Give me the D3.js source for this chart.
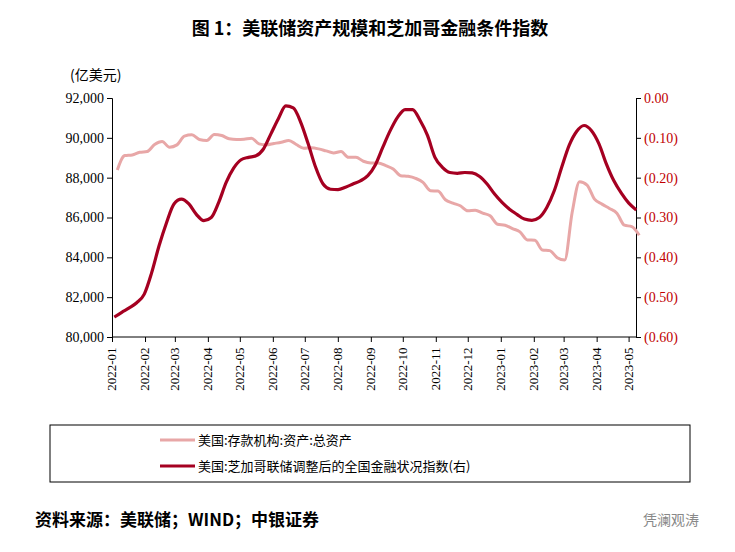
<!DOCTYPE html><html><head><meta charset="utf-8"><script src="https://cdn.jsdelivr.net/npm/d3@7"></script>
<style>body{margin:0;background:#fff}</style></head><body><svg id="c" width="735" height="552"></svg>
<script>
const startDate = "2022-01-06";
const assets = [88386,89109,89143,89277,89311,89664,89815,89529,89647,90084,90151,89916,89866,90168,90118,89950,89916,89933,89983,89697,89647,89714,89782,89866,89664,89479,89496,89445,89345,89244,89311,89025,89025,88824,88739,88739,88605,88437,88101,88067,87966,87765,87345,87328,86891,86723,86588,86336,86370,86219,86084,85664,85613,85445,85277,84874,84857,84370,84336,83983,83866,86252,87798,87630,86924,86672,86454,86219,85613,85546,85109];
const nfci = [-0.550,-0.538,-0.527,-0.514,-0.493,-0.439,-0.371,-0.313,-0.266,-0.254,-0.266,-0.292,-0.308,-0.300,-0.262,-0.212,-0.176,-0.155,-0.149,-0.145,-0.128,-0.090,-0.052,-0.020,-0.025,-0.061,-0.115,-0.174,-0.216,-0.229,-0.230,-0.224,-0.216,-0.208,-0.195,-0.168,-0.124,-0.082,-0.048,-0.029,-0.029,-0.056,-0.094,-0.149,-0.174,-0.187,-0.189,-0.187,-0.188,-0.197,-0.216,-0.241,-0.262,-0.279,-0.292,-0.304,-0.307,-0.300,-0.275,-0.233,-0.174,-0.119,-0.084,-0.069,-0.082,-0.115,-0.166,-0.208,-0.239,-0.264,-0.281];
const leftTicks = [80000,82000,84000,86000,88000,90000,92000];
const rightTicks = [0,-0.1,-0.2,-0.3,-0.4,-0.5,-0.6];
const seriesNames = ["美国:存款机构:资产:总资产","美国:芝加哥联储调整后的全国金融状况指数(右)"];
const colors = ["#e8a7a7","#a50021"];

const svg = d3.select("#c");
const t0 = d3.timeParse("%Y-%m-%d")(startDate);
const dates = assets.map((_,i)=>d3.timeDay.offset(t0,7*i));
const x = d3.scaleTime().domain([new Date(2022,0,1),new Date(2023,4,1)]).range([112,628.6]);
const yl = d3.scaleLinear().domain([80000,92000]).range([337,98]);
const yr = d3.scaleLinear().domain([-0.6,0]).range([337,98]);
const serif = "'Liberation Serif','Times New Roman',serif";
const cjk = "'Noto Sans CJK SC',sans-serif";

svg.append("text").attr("x",370).attr("y",35).attr("text-anchor","middle").attr("font-family",cjk).attr("font-weight","bold").attr("font-size",18).text("图 1：美联储资产规模和芝加哥金融条件指数");
svg.append("text").attr("x",70).attr("y",80).attr("font-family",cjk).attr("font-size",14).text("(亿美元)");

const gx = svg.append("g").attr("transform","translate(0,337)")
  .call(d3.axisBottom(x).ticks(d3.timeMonth.every(1)).tickFormat(d3.timeFormat("%Y-%m")).tickSize(5));
gx.selectAll("text").attr("font-family",serif).attr("font-size",13).attr("fill","#000")
  .attr("transform","rotate(-90)").attr("text-anchor","end").attr("dx","-0.5em").attr("dy","0.3em").attr("x",-4).attr("y",0);
gx.select(".domain").attr("d","M112,0H636");
const gl = svg.append("g").attr("transform","translate(112,0)").call(d3.axisLeft(yl).tickValues(leftTicks).tickFormat(d3.format(",")).tickSize(5));
gl.selectAll("text").attr("font-family",serif).attr("font-size",14).attr("fill","#000");
const gr = svg.append("g").attr("transform","translate(636,0)").call(d3.axisRight(yr).tickValues(rightTicks).tickFormat(d=>d===0?"0.00":"("+Math.abs(d).toFixed(2)+")").tickSize(5));
gr.selectAll("text").attr("font-family",serif).attr("font-size",14).attr("fill","#c00000");
svg.selectAll(".domain,.tick line").attr("stroke","#000");

svg.append("path").datum(assets).attr("fill","none").attr("stroke",colors[0]).attr("stroke-width",3)
  .attr("d",d3.line().x((d,i)=>x(dates[i])).y(d=>yl(d)).curve(d3.curveMonotoneX));
svg.append("path").datum(nfci).attr("fill","none").attr("stroke",colors[1]).attr("stroke-width",3.2)
  .attr("d",d3.line().x((d,i)=>x(dates[i])-3).y(d=>yr(d)).curve(d3.curveMonotoneX));

svg.append("rect").attr("x",50).attr("y",425).attr("width",640).attr("height",57).attr("fill","none").attr("stroke","#000");
seriesNames.forEach((n,i)=>{
  const yy = 440+i*26;
  svg.append("line").attr("x1",160).attr("x2",195).attr("y1",yy).attr("y2",yy).attr("stroke",colors[i]).attr("stroke-width",3);
  svg.append("text").attr("x",198).attr("y",yy+5).attr("font-family",cjk).attr("font-size",13).text(n);
});
svg.append("text").attr("x",35).attr("y",526).attr("font-family",cjk).attr("font-weight","bold").attr("font-size",17).text("资料来源：美联储；WIND；中银证券");
svg.append("text").attr("x",643).attr("y",525).attr("font-family",cjk).attr("font-size",14).attr("fill","#888").text("凭澜观涛");
</script></body></html>
